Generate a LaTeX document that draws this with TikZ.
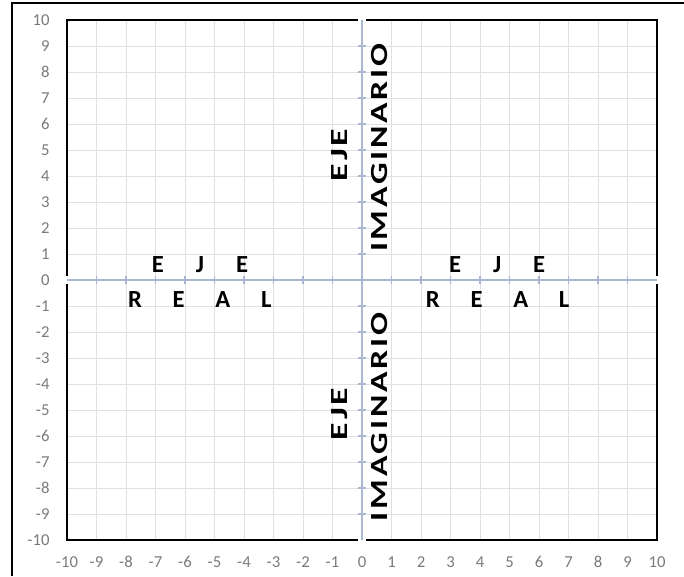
\documentclass[tikz,border=0pt]{standalone}
\usepackage{fontspec}
\usepackage{graphicx}
\setmainfont{Carlito}
\definecolor{gridgray}{HTML}{E0E0E0}
\definecolor{axisblue}{HTML}{A8B8D2}
\definecolor{labgray}{HTML}{7A7A7A}

\begin{document}
\begin{tikzpicture}[x=0.59cm,y=0.52cm,font=\fontsize{9.5}{11}\selectfont,
  gridline/.style={gridgray,line width=.5pt},
  plotframe/.style={black,line width=1.4pt},
  outerline/.style={black,line width=1.1pt},
  axisline/.style={axisblue,line width=1.1pt},
  axisgap/.style={fill=white,draw=none},
  ylab/.style={anchor=east,text=labgray,inner sep=0pt},
  xlab/.style={text=labgray,inner sep=0pt},
  hword/.style={font=\fontsize{14}{16}\selectfont\bfseries,inner sep=0pt},
  vword/.style={font=\fontsize{14}{16}\selectfont\bfseries\addfontfeature{LetterSpace=8},inner sep=0pt,rotate=90}]
\useasboundingbox (-12.271,-11.385) rectangle (10.915,10.769);
\draw[outerline] (-11.864,-11.385) -- (-11.864,10.654) -- (10.915,10.654);
% grid
\draw[gridline] (-9,-10) -- (-9,10) (-8,-10) -- (-8,10) (-7,-10) -- (-7,10) (-6,-10) -- (-6,10)
  (-5,-10) -- (-5,10) (-4,-10) -- (-4,10) (-3,-10) -- (-3,10) (-2,-10) -- (-2,10) (-1,-10) -- (-1,10)
  (1,-10) -- (1,10) (2,-10) -- (2,10) (3,-10) -- (3,10) (4,-10) -- (4,10) (5,-10) -- (5,10)
  (6,-10) -- (6,10) (7,-10) -- (7,10) (8,-10) -- (8,10) (9,-10) -- (9,10);
\draw[gridline] (-10,-9) -- (10,-9) (-10,-8) -- (10,-8) (-10,-7) -- (10,-7) (-10,-6) -- (10,-6)
  (-10,-5) -- (10,-5) (-10,-4) -- (10,-4) (-10,-3) -- (10,-3) (-10,-2) -- (10,-2) (-10,-1) -- (10,-1)
  (-10,1) -- (10,1) (-10,2) -- (10,2) (-10,3) -- (10,3) (-10,4) -- (10,4) (-10,5) -- (10,5)
  (-10,6) -- (10,6) (-10,7) -- (10,7) (-10,8) -- (10,8) (-10,9) -- (10,9);
\draw[plotframe] (-10,-10) rectangle (10,10);
\path[axisgap] (-0.15,9.7) rectangle (0.15,10.3);
\path[axisgap] (-0.15,-10.3) rectangle (0.15,-9.7);
\path[axisgap] (9.8,-0.17) rectangle (10.2,0.17);
\path[axisgap] (-10.2,-0.17) rectangle (-9.8,0.17);
% axes with their ticks
\draw[axisline] (-10,0) -- (10,0) (0,-10) -- (0,10);
\draw[axisline] (-9,-.154) -- (-9,.154) (-8,-.154) -- (-8,.154) (-7,-.154) -- (-7,.154) (-6,-.154) -- (-6,.154)
  (-5,-.154) -- (-5,.154) (-4,-.154) -- (-4,.154) (-3,-.154) -- (-3,.154) (-2,-.154) -- (-2,.154) (-1,-.154) -- (-1,.154)
  (1,-.154) -- (1,.154) (2,-.154) -- (2,.154) (3,-.154) -- (3,.154) (4,-.154) -- (4,.154) (5,-.154) -- (5,.154)
  (6,-.154) -- (6,.154) (7,-.154) -- (7,.154) (8,-.154) -- (8,.154) (9,-.154) -- (9,.154);
\draw[axisline] (-.135,-9) -- (.135,-9) (-.135,-8) -- (.135,-8) (-.135,-7) -- (.135,-7) (-.135,-6) -- (.135,-6)
  (-.135,-5) -- (.135,-5) (-.135,-4) -- (.135,-4) (-.135,-3) -- (.135,-3) (-.135,-2) -- (.135,-2) (-.135,-1) -- (.135,-1)
  (-.135,1) -- (.135,1) (-.135,2) -- (.135,2) (-.135,3) -- (.135,3) (-.135,4) -- (.135,4) (-.135,5) -- (.135,5)
  (-.135,6) -- (.135,6) (-.135,7) -- (.135,7) (-.135,8) -- (.135,8) (-.135,9) -- (.135,9);
% vertical labels
\node[ylab] (y10) at (-10.58,10) {10};
\node[ylab] (y9) at (-10.58,9) {9};
\node[ylab] (y8) at (-10.58,8) {8};
\node[ylab] (y7) at (-10.58,7) {7};
\node[ylab] (y6) at (-10.58,6) {6};
\node[ylab] (y5) at (-10.58,5) {5};
\node[ylab] (y4) at (-10.58,4) {4};
\node[ylab] (y3) at (-10.58,3) {3};
\node[ylab] (y2) at (-10.58,2) {2};
\node[ylab] (y1) at (-10.58,1) {1};
\node[ylab] (y0) at (-10.58,0) {0};
\node[ylab] (ym1) at (-10.58,-1) {-1};
\node[ylab] (ym2) at (-10.58,-2) {-2};
\node[ylab] (ym3) at (-10.58,-3) {-3};
\node[ylab] (ym4) at (-10.58,-4) {-4};
\node[ylab] (ym5) at (-10.58,-5) {-5};
\node[ylab] (ym6) at (-10.58,-6) {-6};
\node[ylab] (ym7) at (-10.58,-7) {-7};
\node[ylab] (ym8) at (-10.58,-8) {-8};
\node[ylab] (ym9) at (-10.58,-9) {-9};
\node[ylab] (ym10) at (-10.58,-10) {-10};
% horizontal labels
\node[xlab] (xm10) at (-10,-10.85) {-10};
\node[xlab] (xm9) at (-9,-10.85) {-9};
\node[xlab] (xm8) at (-8,-10.85) {-8};
\node[xlab] (xm7) at (-7,-10.85) {-7};
\node[xlab] (xm6) at (-6,-10.85) {-6};
\node[xlab] (xm5) at (-5,-10.85) {-5};
\node[xlab] (xm4) at (-4,-10.85) {-4};
\node[xlab] (xm3) at (-3,-10.85) {-3};
\node[xlab] (xm2) at (-2,-10.85) {-2};
\node[xlab] (xm1) at (-1,-10.85) {-1};
\node[xlab] (x0) at (0,-10.85) {0};
\node[xlab] (x1) at (1,-10.85) {1};
\node[xlab] (x2) at (2,-10.85) {2};
\node[xlab] (x3) at (3,-10.85) {3};
\node[xlab] (x4) at (4,-10.85) {4};
\node[xlab] (x5) at (5,-10.85) {5};
\node[xlab] (x6) at (6,-10.85) {6};
\node[xlab] (x7) at (7,-10.85) {7};
\node[xlab] (x8) at (8,-10.85) {8};
\node[xlab] (x9) at (9,-10.85) {9};
\node[xlab] (x10) at (10,-10.85) {10};
% axis names
\node[hword] (ejeleft) at (-5.49,0.6) {E\hspace{18.2pt}J\hspace{18.2pt}E};
\node[hword] (realleft) at (-5.5,-0.75) {R\hspace{17.5pt}E\hspace{17.5pt}A\hspace{17.5pt}L};
\node[hword] (ejeright) at (4.58,0.6) {E\hspace{18.2pt}J\hspace{18.2pt}E};
\node[hword] (realright) at (4.6,-0.75) {R\hspace{17.5pt}E\hspace{17.5pt}A\hspace{17.5pt}L};
\node[vword] (ejeup) at (-0.75,4.81) {\scalebox{1.45}[1]{EJE}};
\node[vword] (imagup) at (0.61,5.08) {\scalebox{1.38}[1]{IMAGINARIO}};
\node[vword] (ejedown) at (-0.75,-5.15) {\scalebox{1.45}[1]{EJE}};
\node[vword] (imagdown) at (0.61,-5.27) {\scalebox{1.38}[1]{IMAGINARIO}};
\end{tikzpicture}
\end{document}
